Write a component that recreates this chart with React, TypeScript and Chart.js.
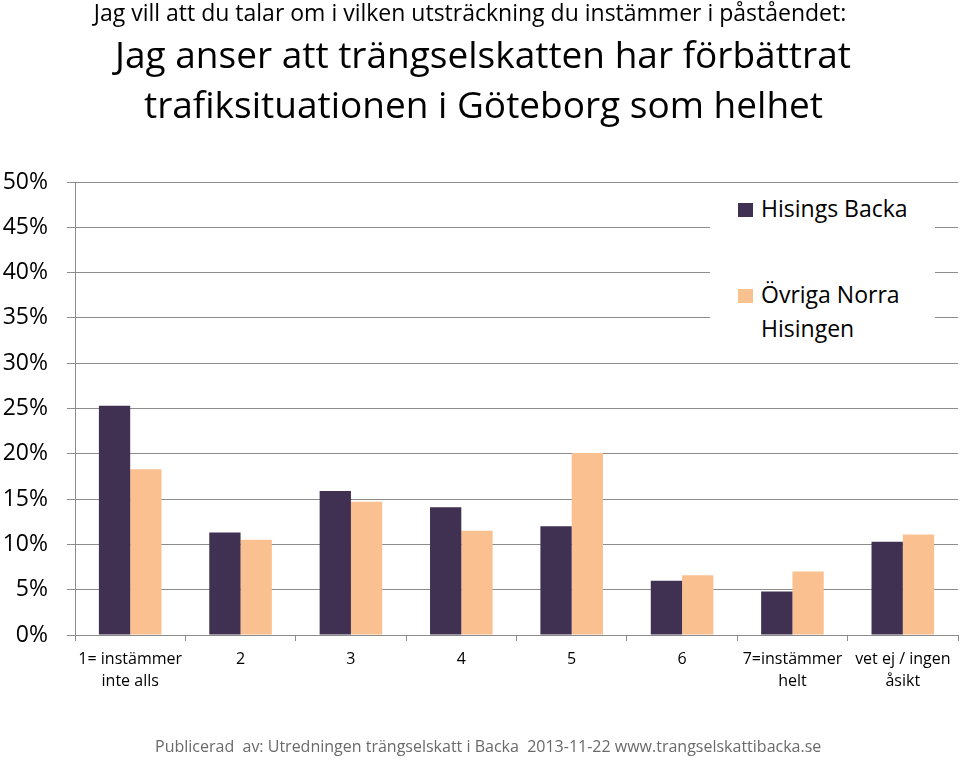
import React, { useEffect, useRef } from "react";
import { Chart, registerables } from "chart.js";
Chart.register(...registerables);

const categories: (string | string[])[] = [
  ["1= instämmer", "inte alls"],
  "2",
  "3",
  "4",
  "5",
  "6",
  ["7=instämmer", "helt"],
  ["vet ej / ingen", "åsikt"],
];
const seriesNames = ["Hisings Backa", "Övriga Norra Hisingen"];
const hisingsBacka = [25.3, 11.3, 15.9, 14.1, 12.0, 6.0, 4.8, 10.3];
const ovrigaNorraHisingen = [18.3, 10.5, 14.7, 11.5, 20.1, 6.6, 7.0, 11.1];
const yMin = 0;
const yMax = 50;
const yStep = 5;

const titleLine1 = "Jag vill att du talar om i vilken utsträckning du instämmer i påståendet:";
const titleLine2 = "Jag anser att trängselskatten har förbättrat";
const titleLine3 = "trafiksituationen i Göteborg som helhet";
const footer = "Publicerad  av: Utredningen trängselskatt i Backa  2013-11-22 www.trangselskattibacka.se";

const DARK = "#403152";
const LIGHT = "#FAC090";
const GRID = "#8c8c8c";
const FONT = "'Open Sans', 'Noto Sans', sans-serif";

export default function App() {
  const ref = useRef<HTMLCanvasElement>(null);
  useEffect(() => {
    document.body.style.margin = "0";
    const chart = new Chart(ref.current!, {
      type: "bar",
      data: {
        labels: categories,
        datasets: [
          { label: seriesNames[0], data: hisingsBacka, backgroundColor: DARK },
          { label: seriesNames[1], data: ovrigaNorraHisingen, backgroundColor: LIGHT },
        ],
      },
      options: {
        animation: false,
        responsive: false,
        maintainAspectRatio: false,
        layout: { padding: { top: 182, right: 2, left: 0, bottom: 0 } },
        datasets: { bar: { categoryPercentage: 0.567, barPercentage: 1 } },
        plugins: { legend: { display: false }, tooltip: { enabled: false }, title: { display: false } },
        scales: {
          x: {
            grid: { display: true, drawOnChartArea: false, offset: true, tickLength: 6, color: GRID },
            border: { color: GRID },
            ticks: {
              font: { family: FONT, size: 16, lineHeight: 1.4 },
              color: "#000",
              padding: 7,
              maxRotation: 0,
              autoSkip: false,
            },
            afterFit: (s: any) => {
              s.height = 125;
            },
          },
          y: {
            min: yMin,
            max: yMax,
            ticks: {
              stepSize: yStep,
              callback: (v: any) => v + "%",
              font: { family: FONT, size: 23 },
              color: "#000",
              padding: 19,
            },
            grid: { color: GRID, tickLength: 8 },
            border: { color: GRID },
            afterFit: (s: any) => {
              s.width = 75;
            },
          },
        },
      },
    });
    return () => chart.destroy();
  }, []);

  const abs = (o: React.CSSProperties): React.CSSProperties => ({
    position: "absolute",
    whiteSpace: "pre",
    fontFamily: FONT,
    fontVariantLigatures: "none",
    margin: 0,
    ...o,
  });

  return (
    <div style={{ position: "relative", width: 960, height: 760, background: "#fff", overflow: "hidden" }}>
      <canvas ref={ref} width={960} height={760} style={{ display: "block", width: 960, height: 760 }} />
      <div style={abs({ left: 0, width: 940, top: -2, textAlign: "center", fontSize: 23, lineHeight: "28px", color: "#000" })}>
        {titleLine1}
      </div>
      <div style={abs({ left: 0, width: 966, top: 29.5, textAlign: "center", fontSize: 37, lineHeight: "48px", color: "#000" })}>
        {titleLine2}
      </div>
      <div style={abs({ left: 0, width: 967, top: 79.5, textAlign: "center", fontSize: 37, lineHeight: "48px", color: "#000" })}>
        {titleLine3}
      </div>
      <div style={abs({ left: 710, top: 190, width: 225, height: 160, background: "#fff" })}>
        <div style={abs({ left: 28, top: 13, width: 15, height: 14, background: DARK })} />
        <div style={abs({ left: 51, top: 2, fontSize: 23, lineHeight: "32px", color: "#000" })}>{seriesNames[0]}</div>
        <div style={abs({ left: 28, top: 99, width: 15, height: 14, background: LIGHT })} />
        <div style={abs({ left: 51, top: 87, fontSize: 23, lineHeight: "34px", color: "#000" })}>
          {"Övriga Norra\nHisingen"}
        </div>
      </div>
      <div style={abs({ left: 155, top: 736, fontSize: 16, lineHeight: "20px", color: "#6a6a6a" })}>{footer}</div>
    </div>
  );
}
